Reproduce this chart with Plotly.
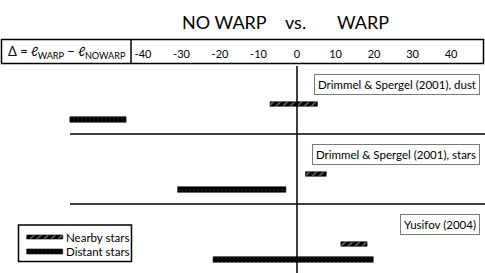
import plotly.graph_objects as go

# ---------------- data ----------------
sources = ["Drimmel &amp; Spergel (2001), dust",
           "Drimmel &amp; Spergel (2001), stars",
           "Yusifov (2004)"]
nearby_lo = [-7.0, 2.2, 11.4]
nearby_hi = [5.3, 7.6, 18.2]
distant_lo = [-59.0, -31.0, -21.8]
distant_hi = [-44.4, -2.9, 19.8]
tick_vals = [-40, -30, -20, -10, 0, 10, 20, 30, 40]
tick_text = ["-40", "-30", "-20", "-10", "0", "10", "20", "30", "40"]
series_names = ["Nearby stars", "Distant stars"]

# ---------------- layout constants ----------------
W, H = 485, 273
TOP = 64                 # plot area starts below the header row
X0_PX = 297              # pixel of zero
PPU = 3.85               # pixels per unit
FONT = "Lato"
ROW_H = 70
NEAR_OFF, DIST_OFF, LABEL_OFF = 40, 55.5, 10

def xd(px):
    return (px - X0_PX) / PPU

def py_paper(py):
    return (H - py) / (H - TOP)

near_pattern = dict(shape="/", bgcolor="black", fgcolor="white", size=5, solidity=0.25)
dist_pattern = dict(shape=".", bgcolor="black", fgcolor="#9a9a9a", size=4, solidity=0.08)

row_tops = [TOP + i * ROW_H for i in range(len(sources))]

fig = go.Figure()
fig.add_trace(go.Bar(
    orientation="h", base=nearby_lo,
    x=[h - l for l, h in zip(nearby_lo, nearby_hi)],
    y=[t + NEAR_OFF for t in row_tops], width=4.5,
    marker=dict(color="black", pattern=near_pattern, line=dict(color="black", width=0.6)),
    name=series_names[0], showlegend=False))
fig.add_trace(go.Bar(
    orientation="h", base=distant_lo,
    x=[h - l for l, h in zip(distant_lo, distant_hi)],
    y=[t + DIST_OFF for t in row_tops], width=5.5,
    marker=dict(color="black", pattern=dist_pattern, line=dict(color="black", width=0.6)),
    name=series_names[1], showlegend=False))

# legend swatches (drawn manually as wide bars)
LEG = dict(x0=18.5, x1=131.5, y0=225, y1=261.5)
sw_x0, sw_x1 = 26.7, 62.7
fig.add_trace(go.Bar(orientation="h", base=[xd(sw_x0)], x=[xd(sw_x1) - xd(sw_x0)],
                     y=[LEG["y0"] + 12], width=4,
                     marker=dict(color="black", pattern=near_pattern, line=dict(color="black", width=0.6)),
                     showlegend=False, hoverinfo="skip"))
fig.add_trace(go.Bar(orientation="h", base=[xd(sw_x0)], x=[xd(sw_x1) - xd(sw_x0)],
                     y=[LEG["y0"] + 26.5], width=5,
                     marker=dict(color="black", pattern=dist_pattern, line=dict(color="black", width=0.6)),
                     showlegend=False, hoverinfo="skip"))

shapes = []
annotations = []
# header box
shapes.append(dict(type="rect", xref="paper", yref="paper",
                   x0=1.5 / W, x1=483.5 / W, y0=py_paper(63.5), y1=py_paper(39.5),
                   line=dict(color="black", width=1.5)))
shapes.append(dict(type="line", xref="paper", yref="paper",
                   x0=131 / W, x1=131 / W, y0=py_paper(63.5), y1=py_paper(39.5),
                   line=dict(color="black", width=1.5)))
# zero line
shapes.append(dict(type="line", xref="x", yref="paper", x0=0, x1=0, y0=0, y1=py_paper(66),
                   line=dict(color="black", width=1.5)))
# row separators
for t in row_tops[1:]:
    shapes.append(dict(type="line", xref="paper", yref="y", x0=70 / W, x1=1, y0=t, y1=t,
                       line=dict(color="black", width=1.3)))
# legend box
shapes.append(dict(type="rect", xref="paper", yref="y", x0=LEG["x0"] / W, x1=LEG["x1"] / W,
                   y0=LEG["y0"], y1=LEG["y1"], line=dict(color="black", width=1.5)))

# source labels
for t, s in zip(row_tops, sources):
    annotations.append(dict(xref="paper", yref="y", x=480 / W, y=t + LABEL_OFF,
                            xanchor="right", yanchor="top", text=s, showarrow=False,
                            font=dict(family=FONT, size=11.5, color="black"),
                            bordercolor="#7a7a7a", borderwidth=1, borderpad=3,
                            bgcolor="white"))
# legend text
for i, nm in enumerate(series_names):
    annotations.append(dict(xref="paper", yref="y", x=64 / W, y=LEG["y0"] + 12 + 14.5 * i,
                            xanchor="left", yanchor="middle", text=nm, showarrow=False,
                            font=dict(family=FONT, size=11.5, color="black")))
# title pieces
for txt, cx in [("NO WARP", 224), ("vs.", 295), ("WARP", 363)]:
    annotations.append(dict(xref="paper", yref="paper", x=cx / W, y=py_paper(22.5),
                            xanchor="center", yanchor="middle", text=txt, showarrow=False,
                            font=dict(family=FONT, size=18, color="black")))
# header label
annotations.append(dict(xref="paper", yref="paper", x=67 / W, y=py_paper(52),
                        xanchor="center", yanchor="middle",
                        text="Δ = <i>ℓ</i><sub>WARP</sub> − <i>ℓ</i><sub>NOWARP</sub>",
                        showarrow=False, font=dict(family=FONT, size=13, color="black")))

fig.update_layout(
    width=W, height=H, margin=dict(l=0, r=0, t=TOP, b=0),
    paper_bgcolor="white", plot_bgcolor="white",
    barmode="overlay", bargap=0,
    xaxis=dict(range=[xd(0), xd(W)], side="top", tickvals=tick_vals, ticktext=tick_text,
               showgrid=False, zeroline=False, showline=False, ticks="",
               tickfont=dict(family=FONT, size=11, color="black"), ticklabelstandoff=3,
               fixedrange=True),
    yaxis=dict(range=[H, TOP], visible=False, showgrid=False, zeroline=False, fixedrange=True),
    shapes=shapes, annotations=annotations, showlegend=False,
)
fig.write_html("out.html", config={"displayModeBar": False, "staticPlot": True},
               post_script="document.body.style.margin='0px';document.body.style.overflow='hidden';")
